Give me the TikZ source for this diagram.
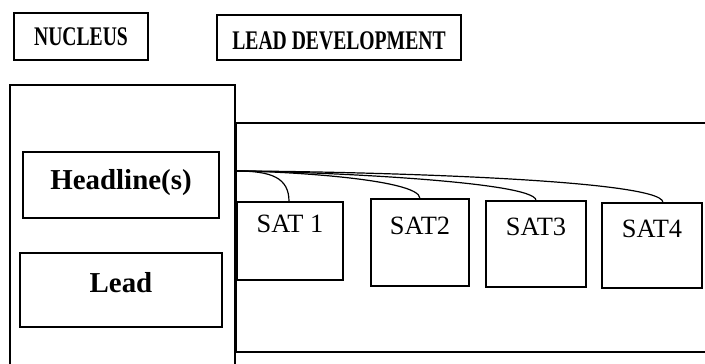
\documentclass[tikz,border=0pt]{standalone}
\usepackage{fontspec}
\setmainfont{Liberation Serif}
\newfontfamily\narrowserif[FakeStretch=0.73]{Liberation Serif}
\usetikzlibrary{positioning,calc}
\definecolor{ink}{HTML}{000000}
\tikzset{
  every node/.style={text=ink},
  titlebox/.style={draw=ink,line width=1.2bp,inner sep=0pt,align=center,font=\narrowserif\bfseries\fontsize{27}{30}\selectfont},
  partbox/.style={draw=ink,line width=1.1bp,inner sep=0pt,align=center,font=\bfseries\fontsize{29}{32}\selectfont},
  satbox/.style={draw=ink,line width=1.1bp,inner sep=0pt,text depth=34bp,font=\fontsize{26.5}{29}\selectfont},
  framebox/.style={draw=ink,line width=1.1bp,inner sep=0pt},
  link/.style={draw=ink,line width=1.2bp},
}

\begin{document}
\begin{tikzpicture}[x=1bp,y=1bp]
\useasboundingbox (0,0) rectangle (705,363);
\clip (0,0) rectangle (705,363);

% headings
\node[titlebox,minimum width=134bp,minimum height=47bp] (nucleus) at (81,326.5) {NUCLEUS};
\node[titlebox,minimum width=244bp,minimum height=45bp,text height=25bp] (leaddev) at (339,325.5) {LEAD DEVELOPMENT};

% nucleus column
\node[framebox,minimum width=225bp,minimum height=315bp] (nucframe) at (122.5,120.5) {};
\node[partbox,minimum width=196bp,minimum height=66bp,text depth=11bp] (headline) at (121,178) {Headline(s)};
\node[partbox,minimum width=202bp,minimum height=74bp,text depth=16bp] (lead) at (121,73) {Lead};

% development area
\coordinate (devtop) at (705,240);
\coordinate (devbot) at (705,11);
\draw[link] (devtop) -| (236,11) -- (devbot);
\coordinate (hub) at (236,192);

\node[satbox,minimum width=106bp,minimum height=78bp] (sat1) at (290,122) {SAT 1};
\node[satbox,minimum width=98bp,minimum height=87bp] (sat2) at (420,120.5) {SAT2};
\node[satbox,minimum width=100bp,minimum height=86bp] (sat3) at (536,119) {SAT3};
\node[satbox,minimum width=100bp,minimum height=85bp] (sat4) at (652,117.5) {SAT4};

\draw[link] (hub) to[out=0,in=90,out distance=35bp,in distance=24bp] ([xshift=-1bp]sat1.north);
\draw[link] (hub) to[out=0,in=90,out distance=40bp,in distance=20bp] (sat2.north);
\draw[link] (hub) to[out=0,in=90,out distance=60bp,in distance=20bp] (sat3.north);
\draw[link] (hub) to[out=0,in=90,out distance=80bp,in distance=25bp] ([xshift=11bp]sat4.north);

\end{tikzpicture}
\end{document}
